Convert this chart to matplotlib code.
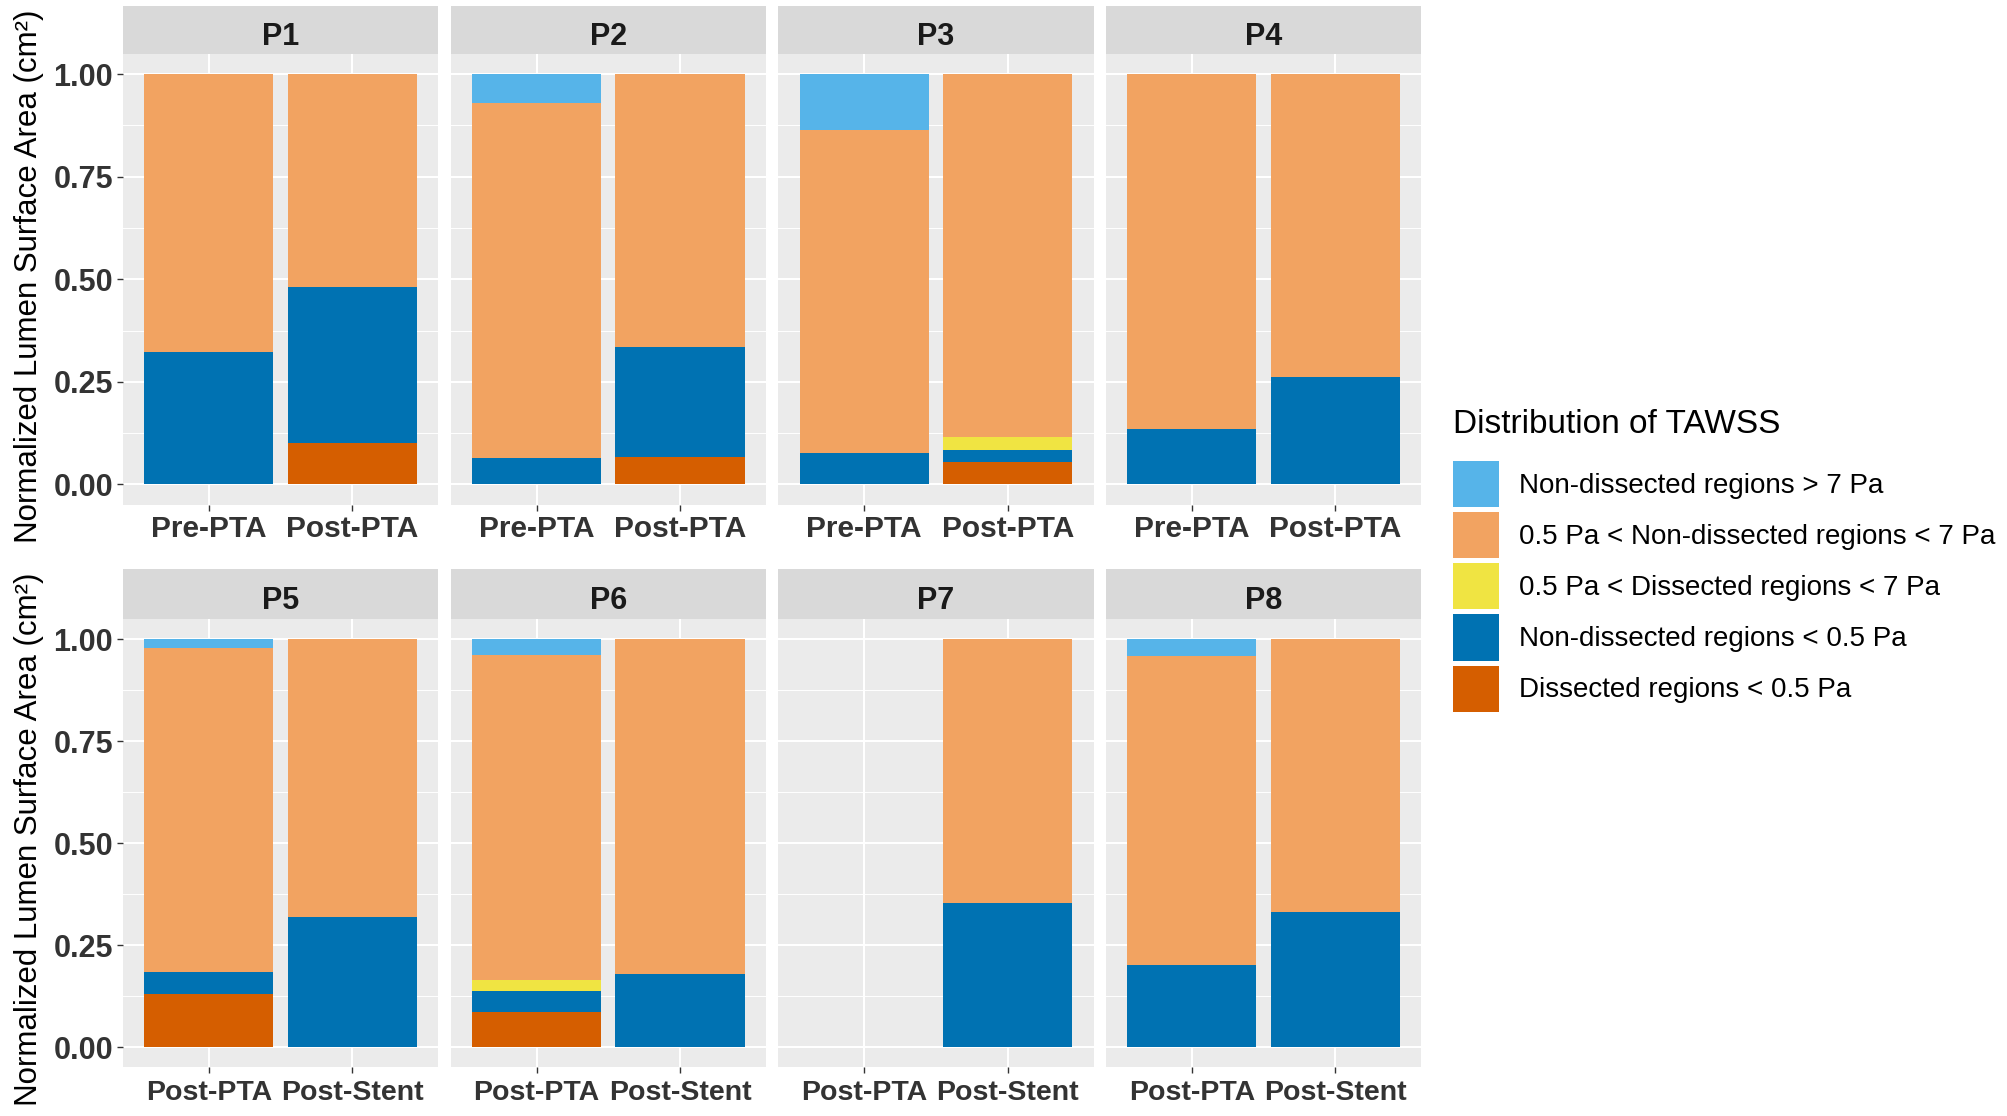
import matplotlib.pyplot as plt
from matplotlib.patches import Patch
from matplotlib.ticker import MultipleLocator

plt.rcParams['font.family'] = ['Liberation Sans', 'DejaVu Sans']

# data: one value per bar, P1 first bar, P1 second bar, P2 first bar, ...
patients = ["P1", "P2", "P3", "P4", "P5", "P6", "P7", "P8"]
stages_top = ["Pre-PTA", "Post-PTA"]
stages_bottom = ["Post-PTA", "Post-Stent"]

diss_low = [0.000, 0.102, 0.000, 0.068, 0.000, 0.055, 0.000, 0.000,
            0.130, 0.000, 0.086, 0.000, 0.000, 0.000, 0.000, 0.000]
nondiss_low = [0.324, 0.380, 0.065, 0.268, 0.076, 0.028, 0.136, 0.262,
               0.055, 0.319, 0.052, 0.178, 0.000, 0.352, 0.202, 0.331]
diss_mid = [0.000, 0.000, 0.000, 0.000, 0.000, 0.032, 0.000, 0.000,
            0.000, 0.000, 0.027, 0.000, 0.000, 0.000, 0.000, 0.000]
nondiss_mid = [0.676, 0.518, 0.865, 0.664, 0.787, 0.885, 0.864, 0.738,
               0.792, 0.681, 0.797, 0.822, 0.000, 0.648, 0.757, 0.669]
nondiss_high = [0.000, 0.000, 0.070, 0.000, 0.137, 0.000, 0.000, 0.000,
                0.023, 0.000, 0.038, 0.000, 0.000, 0.000, 0.041, 0.000]

labels = ["Dissected regions < 0.5 Pa",
          "Non-dissected regions < 0.5 Pa",
          "0.5 Pa < Dissected regions < 7 Pa",
          "0.5 Pa < Non-dissected regions < 7 Pa",
          "Non-dissected regions > 7 Pa"]
colors = ["#D55E00", "#0072B2", "#F0E442", "#F2A361", "#56B4E9"]
series = [diss_low, nondiss_low, diss_mid, nondiss_mid, nondiss_high]

fig = plt.figure(figsize=(20.07, 11.16), dpi=100)

W, H = 1568.0, 873.0
left0 = 96 / W
pw = 246.5 / W
step = 256 / W
rows = [(42, 395, 5), (484, 835, 445)]  # plot top, plot bottom, strip top (display px)

tick_col = "#333333"

for i, p in enumerate(patients):
    r, c = divmod(i, 4)
    top, bot, stop = rows[r]
    x0 = left0 + c * step
    ax = fig.add_axes([x0, 1 - bot / H, pw, (bot - top) / H])
    sax = fig.add_axes([x0, 1 - top / H, pw, (top - stop) / H])

    xs = [1, 2]
    base = [0.0, 0.0]
    for s, col in zip(series, colors):
        vals = s[2 * i:2 * i + 2]
        ax.bar(xs, vals, width=0.9, bottom=base, color=col, linewidth=0, zorder=3)
        base = [b + v for b, v in zip(base, vals)]

    ax.set_facecolor("#EBEBEB")
    ax.set_xlim(0.4, 2.6)
    ax.set_ylim(-0.05, 1.05)
    ax.yaxis.set_minor_locator(MultipleLocator(0.125))
    ax.set_yticks([0, 0.25, 0.5, 0.75, 1.0])
    ax.set_xticks(xs)
    ax.set_xticklabels(stages_top if r == 0 else stages_bottom,
                       fontsize=21.5 if r == 0 else 20.5, fontweight="bold", color=tick_col)
    ax.grid(which="major", color="white", linewidth=1.5, zorder=0)
    ax.grid(which="minor", axis="y", color="white", linewidth=0.7, zorder=0)
    ax.set_axisbelow(True)
    for sp in ax.spines.values():
        sp.set_visible(False)
    ax.tick_params(axis="both", which="major", length=4, width=1, color=tick_col, pad=3)
    if r == 1:
        ax.tick_params(axis="x", pad=5)
    ax.tick_params(axis="y", which="minor", length=0)
    if c == 0:
        ax.set_yticklabels(["0.00", "0.25", "0.50", "0.75", "1.00"],
                           fontsize=22, fontweight="bold", color=tick_col)
    else:
        ax.tick_params(axis="y", labelleft=False, length=0)

    sax.set_facecolor("#D9D9D9")
    sax.set_xticks([])
    sax.set_yticks([])
    for sp in sax.spines.values():
        sp.set_visible(False)
    sax.text(0.5, 0.36, p, ha="center", va="center", fontsize=22,
             fontweight="bold", color="#1A1A1A", transform=sax.transAxes)

for r in range(2):
    top, bot, stop = rows[r]
    fig.text(23 / W, 1 - (top + bot) / 2 / H + 0.003, "Normalized Lumen Surface Area (cm²)",
             rotation=90, ha="center", va="center", fontsize=22.5, color="black")

handles = [Patch(facecolor=col, edgecolor="none", label=lab)
           for col, lab in zip(colors, labels)][::-1]
leg = fig.legend(handles=handles, loc="upper left", bbox_to_anchor=(1135 / W, 1 - 320 / H),
                 title="Distribution of TAWSS", fontsize=20, title_fontsize=24,
                 frameon=False, handlelength=1.66, handleheight=2.18,
                 labelspacing=0.18, handletextpad=0.72, borderpad=0, borderaxespad=0)
leg._legend_box.align = "left"
leg._legend_box.sep = 15

fig.savefig("out.png", dpi=100)
